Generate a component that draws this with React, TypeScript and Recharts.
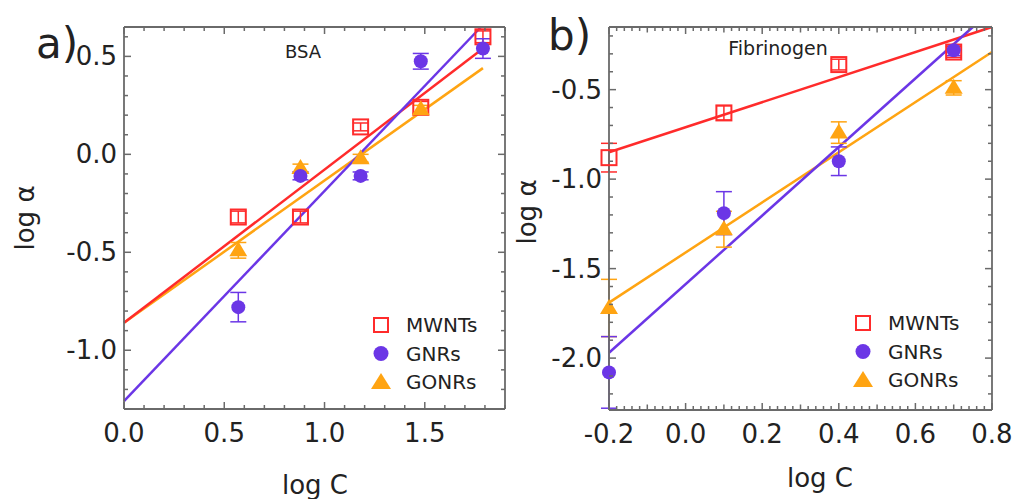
import React from 'react';
import { ComposedChart, Scatter, Line, XAxis, YAxis, ErrorBar } from 'recharts';

const RED = '#ff2b2b';
const PURPLE = '#6b36e6';
const ORANGE = '#ffa412';
const FRAME = '#6a6a6a';
const INK = '#222222';
const FONT = '"DejaVu Sans", Verdana, sans-serif';

// a) BSA
const bsaLogC = [0.57, 0.88, 1.18, 1.48, 1.79];
const bsaMwnts = [-0.32, -0.32, 0.14, 0.24, 0.6];
const bsaMwntsErr = [0.03, 0.03, 0.02, 0.03, 0.03];
const bsaGnrs = [-0.78, -0.11, -0.11, 0.475, 0.54];
const bsaGnrsErr = [0.075, 0.02, 0.02, 0.04, 0.05];
const bsaGonrsLogC = [0.57, 0.88, 1.18, 1.48];
const bsaGonrs = [-0.49, -0.07, -0.02, 0.23];
const bsaGonrsErr = [0.04, 0.02, 0.02, 0.02];
const bsaFitLogC = [0, 1.79];
const bsaFitMwnts = [-0.86, 0.54];
const bsaFitGonrs = [-0.86, 0.44];
const bsaFitGnrsLogC = [0, 1.78];
const bsaFitGnrs = [-1.26, 0.65];

// b) Fibrinogen
const fibLogC = [-0.2, 0.1, 0.4, 0.7];
const fibMwnts = [-0.88, -0.63, -0.36, -0.29];
const fibMwntsErr = [0.08, 0.04, 0.03, 0.03];
const fibGnrs = [-2.08, -1.19, -0.9, -0.28];
const fibGnrsErr = [0.2, 0.12, 0.08, 0.03];
const fibGonrs = [-1.72, -1.28, -0.74, -0.49];
const fibGonrsErr = [0.16, 0.1, 0.06, 0.04];
const fibFitLogC = [-0.2, 0.8];
const fibFitMwnts = [-0.85, -0.15];
const fibFitGonrs = [-1.69, -0.29];
const fibFitGnrsLogC = [-0.2, 0.75];
const fibFitGnrs = [-1.97, -0.15];

// tick labels
const bsaXLabels = [0, 0.5, 1.0, 1.5];
const bsaYLabels = [-1.0, -0.5, 0.0, 0.5];
const fibXLabels = [-0.2, 0.0, 0.2, 0.4, 0.6, 0.8];
const fibYLabels = [-2.0, -1.5, -1.0, -0.5];

const legendNames = ['MWNTs', 'GNRs', 'GONRs'];

const steps = (a: number, b: number, s: number) =>
  Array.from({ length: Math.round((b - a) / s) + 1 }, (_, i) => +(a + i * s).toFixed(3));

const pts = (xs: number[], ys: number[], es: number[]) => xs.map((x, i) => ({ x, y: ys[i], err: es[i] }));
const fit = (xs: number[], ys: number[]) => xs.map((x, i) => ({ x, y: ys[i] }));

const has = (list: number[], v: number) => list.some((m) => Math.abs(m - v) < 1e-6);

const Square = (p: any) => (
  <rect x={p.cx - 7.5} y={p.cy - 7.5} width={15} height={15} fill="none" stroke={RED} strokeWidth={2} />
);
const Dot = (p: any) => <circle cx={p.cx} cy={p.cy} r={7} fill={PURPLE} />;
const Tri = (p: any) => (
  <polygon points={`${p.cx},${p.cy - 9} ${p.cx + 9},${p.cy + 6} ${p.cx - 9},${p.cy + 6}`} fill={ORANGE} />
);

type Side = 'bottom' | 'top' | 'left' | 'right';

// inward tick marks (major / mid / minor) plus labels on bottom & left
const makeTick = (side: Side, labels: number[], mids: number[], withText: boolean) => (props: any) => {
  const x = Number(props.x);
  const y = Number(props.y);
  const v = props.payload.value;
  const major = has(labels, v);
  const len = major ? 7 : has(mids, v) ? 5.5 : 4;
  let d = '';
  if (side === 'bottom') d = `M${x},${y}V${y - len}`;
  else if (side === 'top') d = `M${x},${y}V${y + len}`;
  else if (side === 'left') d = `M${x},${y}H${x + len}`;
  else d = `M${x},${y}H${x - len}`;
  return (
    <g className={props.className}>
      <path d={d} stroke={FRAME} strokeWidth={1.5} fill="none" />
      {withText && major && side === 'bottom' && (
        <text x={x} y={y + 24} textAnchor="middle" dominantBaseline="central" fontSize={26} fill={INK} fontFamily={FONT}>
          {v.toFixed(1)}
        </text>
      )}
      {withText && major && side === 'left' && (
        <text x={x - 7} y={y} textAnchor="end" dominantBaseline="central" fontSize={26} fill={INK} fontFamily={FONT}>
          {v.toFixed(1)}
        </text>
      )}
    </g>
  );
};

interface PanelProps {
  left: number;
  width: number;
  margin: { top: number; right: number; bottom: number; left: number };
  xDomain: [number, number];
  yDomain: [number, number];
  xTicks: number[];
  yTicks: number[];
  xLabels: number[];
  yLabels: number[];
  xMids: number[];
  mwnts: any[];
  gnrs: any[];
  gonrs: any[];
  fits: { data: any[]; color: string }[];
}

const Panel: React.FC<PanelProps> = (p) => {
  const axisLine = { stroke: FRAME, strokeWidth: 1.8 };
  return (
    <div style={{ position: 'absolute', left: p.left, top: 0 }}>
      <ComposedChart width={p.width} height={499} margin={p.margin} style={{ overflow: 'visible' }}>
        <XAxis xAxisId="b" type="number" dataKey="x" domain={p.xDomain} ticks={p.xTicks} interval={0}
          height={1} tickSize={0} tickMargin={0} tickLine={false} axisLine={axisLine}
          tick={makeTick('bottom', p.xLabels, p.xMids, true)} />
        <XAxis xAxisId="t" orientation="top" type="number" dataKey="x" domain={p.xDomain} allowDataOverflow
          ticks={p.xTicks} interval={0} height={1} tickSize={0} tickMargin={0} tickLine={false}
          axisLine={axisLine} tick={makeTick('top', p.xLabels, p.xMids, false)} />
        <YAxis yAxisId="l" type="number" dataKey="y" domain={p.yDomain} ticks={p.yTicks} interval={0}
          width={1} tickSize={0} tickMargin={0} tickLine={false} axisLine={axisLine}
          tick={makeTick('left', p.yLabels, [], true)} />
        <YAxis yAxisId="r" orientation="right" type="number" dataKey="y" domain={p.yDomain} allowDataOverflow
          ticks={p.yTicks} interval={0} width={1} tickSize={0} tickMargin={0} tickLine={false}
          axisLine={axisLine} tick={makeTick('right', p.yLabels, [], false)} />
        {p.fits.map((f, i) => (
          <Line key={i} xAxisId="b" yAxisId="l" data={f.data} dataKey="y" stroke={f.color} strokeWidth={2.5}
            dot={false} activeDot={false} isAnimationActive={false} />
        ))}
        <Scatter xAxisId="b" yAxisId="l" data={p.mwnts} shape={Square} isAnimationActive={false}>
          <ErrorBar dataKey="err" direction="y" width={8} stroke={RED} strokeWidth={1.5} />
        </Scatter>
        <Scatter xAxisId="b" yAxisId="l" data={p.gonrs} shape={Tri} isAnimationActive={false}>
          <ErrorBar dataKey="err" direction="y" width={8} stroke={ORANGE} strokeWidth={1.5} />
        </Scatter>
        <Scatter xAxisId="b" yAxisId="l" data={p.gnrs} shape={Dot} isAnimationActive={false}>
          <ErrorBar dataKey="err" direction="y" width={8} stroke={PURPLE} strokeWidth={1.5} />
        </Scatter>
      </ComposedChart>
    </div>
  );
};

const Legend: React.FC<{ x: number; y: number }> = ({ x, y }) => (
  <g fontFamily={FONT} fontSize={20} fill={INK}>
    <rect x={x - 7} y={y - 7} width={14} height={14} fill="none" stroke={RED} strokeWidth={2} />
    <circle cx={x} cy={y + 28.5} r={7.5} fill={PURPLE} />
    <polygon points={`${x},${y + 48} ${x + 10},${y + 64} ${x - 10},${y + 64}`} fill={ORANGE} />
    {legendNames.map((n, i) => (
      <text key={n} x={x + 25} y={y + i * 28.5} dominantBaseline="central">{n}</text>
    ))}
  </g>
);

export default function App() {
  return (
    <div style={{ position: 'fixed', left: 0, top: 0, width: 1016, height: 499, background: '#fff', fontFamily: FONT }}>
      <Panel
        left={0}
        width={520}
        margin={{ top: 26, right: 14, bottom: 89, left: 123 }}
        xDomain={[0, 1.9]}
        yDomain={[-1.3, 0.65]}
        xTicks={steps(0, 1.9, 0.1)}
        yTicks={steps(-1.3, 0.6, 0.1)}
        xLabels={bsaXLabels}
        yLabels={bsaYLabels}
        xMids={[]}
        mwnts={pts(bsaLogC, bsaMwnts, bsaMwntsErr)}
        gnrs={pts(bsaLogC, bsaGnrs, bsaGnrsErr)}
        gonrs={pts(bsaGonrsLogC, bsaGonrs, bsaGonrsErr)}
        fits={[
          { data: fit(bsaFitLogC, bsaFitGonrs), color: ORANGE },
          { data: fit(bsaFitLogC, bsaFitMwnts), color: RED },
          { data: fit(bsaFitGnrsLogC, bsaFitGnrs), color: PURPLE },
        ]}
      />
      <Panel
        left={520}
        width={496}
        margin={{ top: 26, right: 23, bottom: 88, left: 88 }}
        xDomain={[-0.2, 0.8]}
        yDomain={[-2.29, -0.15]}
        xTicks={steps(-0.2, 0.8, 0.02)}
        yTicks={steps(-2.2, -0.2, 0.1)}
        xLabels={fibXLabels}
        yLabels={fibYLabels}
        xMids={steps(-0.2, 0.8, 0.1)}
        mwnts={pts(fibLogC, fibMwnts, fibMwntsErr)}
        gnrs={pts(fibLogC, fibGnrs, fibGnrsErr)}
        gonrs={pts(fibLogC, fibGonrs, fibGonrsErr)}
        fits={[
          { data: fit(fibFitLogC, fibFitGonrs), color: ORANGE },
          { data: fit(fibFitLogC, fibFitMwnts), color: RED },
          { data: fit(fibFitGnrsLogC, fibFitGnrs), color: PURPLE },
        ]}
      />
      <svg width={1016} height={499} style={{ position: 'absolute', left: 0, top: 0, pointerEvents: 'none' }}>
        <g fill={INK} fontFamily={FONT}>
          <text x={36} y={58} fontSize={42}>a)</text>
          <text x={548} y={50} fontSize={42}>b)</text>
          <text x={303} y={51} fontSize={18} textAnchor="middle" dominantBaseline="central">BSA</text>
          <text x={778} y={48} fontSize={19} textAnchor="middle" dominantBaseline="central">Fibrinogen</text>
          <text x={315} y={494} fontSize={26} textAnchor="middle">log C</text>
          <text x={820} y={487} fontSize={26} textAnchor="middle">log C</text>
          <text transform="translate(25,218) rotate(-90)" fontSize={26} textAnchor="middle" dominantBaseline="central">log α</text>
          <text transform="translate(527,212) rotate(-90)" fontSize={26} textAnchor="middle" dominantBaseline="central">log α</text>
        </g>
        <Legend x={381} y={325} />
        <Legend x={863} y={323} />
      </svg>
    </div>
  );
}
